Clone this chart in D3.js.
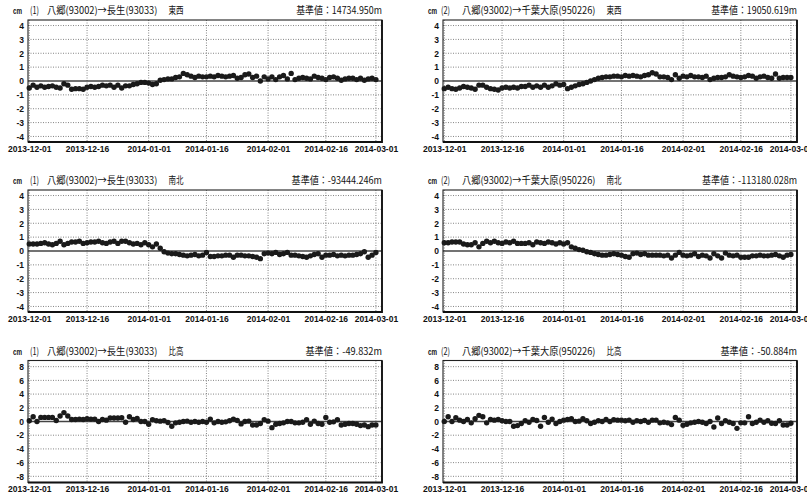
<!DOCTYPE html>
<html>
<head>
<meta charset="utf-8">
<script src="https://cdn.jsdelivr.net/npm/d3@7"></script>
<style>
  body { margin: 0; background: #fff; }
  .tick text { font-family: "Liberation Sans", Arial, sans-serif; font-weight: bold; font-size: 8.5px; fill: #111; }
  .title { font-family: "Noto Sans CJK JP", sans-serif; font-size: 10px; fill: #111; }
  .unit { font-family: "Liberation Sans", Arial, sans-serif; font-weight: bold; font-size: 8.5px; fill: #111; }
</style>
</head>
<body>
<div id="svg"></div>
<script>
// daily solutions 2013-12-01 .. 2014-03-01
const startDay = new Date(2013, 11, 1);
const endDay = new Date(2014, 2, 2);

const xTickLabels = ['2013-12-01', '2013-12-16', '2014-01-01', '2014-01-16', '2014-02-01', '2014-02-16', '2014-03-01'];
const yTicksSmall = [-4, -3, -2, -1, 0, 1, 2, 3, 4];
const yTicksLarge = [-8, -6, -4, -2, 0, 2, 4, 6, 8];

const routes = ['八郷(93002)→長生(93033)', '八郷(93002)→千葉大原(950226)'];
const routeNo = ['(1)', '(2)'];
const components = ['東西', '南北', '比高'];
const baseValues = [
  ['基準値：14734.950m', '基準値：19050.619m'],
  ['基準値：-93444.246m', '基準値：-113180.028m'],
  ['基準値：-49.832m', '基準値：-50.884m']
];

// cm
const ew1 = [
  -0.5,-0.3,-0.45,-0.35,-0.45,-0.4,-0.35,-0.45,-0.5,-0.2,
  -0.3,-0.6,-0.55,-0.55,-0.6,-0.45,-0.4,-0.45,-0.4,-0.3,
  -0.35,-0.3,-0.45,-0.3,-0.5,-0.35,-0.35,-0.25,-0.2,-0.1,
  -0.1,
  -0.15,-0.25,-0.2,0.05,0.1,0.15,0.15,0.25,0.3,0.55,
  0.45,0.35,0.25,0.35,0.3,0.3,0.35,0.3,0.4,0.35,
  0.3,0.35,0.4,0.2,0.25,0.45,0.5,0.25,0.35,0.0,
  0.3,
  0.15,0.3,0.1,0.3,0.4,0.15,0.55,0.1,0.2,0.25,
  0.2,0.15,0.35,0.25,0.2,0.1,0.25,0.3,0.2,0.05,
  0.15,0.2,0.2,0.1,0.2,0.05,0.15,0.2,
  0.1
];
const ew2 = [
  -0.55,-0.45,-0.55,-0.6,-0.5,-0.4,-0.45,-0.5,-0.6,-0.3,
  -0.3,-0.45,-0.55,-0.6,-0.65,-0.5,-0.45,-0.5,-0.45,-0.5,
  -0.4,-0.4,-0.3,-0.45,-0.35,-0.45,-0.3,-0.45,-0.35,-0.2,
  -0.3,
  -0.25,-0.55,-0.45,-0.35,-0.25,-0.2,-0.1,0.0,0.1,0.2,
  0.25,0.3,0.3,0.35,0.35,0.3,0.4,0.35,0.4,0.35,
  0.3,0.4,0.45,0.6,0.5,0.3,0.3,0.25,0.1,0.45,
  0.2,
  0.35,0.3,0.4,0.3,0.3,0.25,0.35,0.1,0.2,0.25,
  0.25,0.3,0.45,0.35,0.3,0.25,0.3,0.4,0.35,0.2,
  0.3,0.35,0.25,0.2,0.5,0.2,0.25,0.25,
  0.25
];
const ns1 = [
  0.5,0.5,0.5,0.55,0.6,0.5,0.45,0.55,0.7,0.45,
  0.55,0.65,0.65,0.7,0.55,0.6,0.65,0.65,0.7,0.6,
  0.55,0.65,0.7,0.55,0.7,0.7,0.6,0.5,0.55,0.45,
  0.6,
  0.45,0.3,0.5,0.2,-0.05,-0.15,-0.2,-0.2,-0.25,-0.3,
  -0.35,-0.3,-0.25,-0.35,-0.3,-0.1,-0.4,-0.4,-0.35,-0.35,
  -0.3,-0.3,-0.45,-0.3,-0.3,-0.35,-0.35,-0.4,-0.45,-0.55,
  -0.2,
  -0.15,-0.2,-0.1,-0.25,-0.2,-0.1,-0.3,-0.3,-0.35,-0.4,
  -0.45,-0.35,-0.25,-0.2,-0.45,-0.3,-0.3,-0.25,-0.35,-0.3,
  -0.35,-0.3,-0.3,-0.25,-0.2,-0.05,-0.45,-0.3,
  -0.1
];
const ns2 = [
  0.6,0.6,0.65,0.65,0.65,0.5,0.45,0.45,0.6,0.3,
  0.55,0.7,0.6,0.7,0.6,0.55,0.65,0.6,0.7,0.55,
  0.55,0.55,0.6,0.45,0.65,0.6,0.55,0.65,0.6,0.5,
  0.6,
  0.5,0.6,0.3,0.2,0.1,0.05,-0.05,-0.1,-0.2,-0.25,
  -0.3,-0.3,-0.25,-0.2,-0.25,-0.3,-0.4,-0.45,-0.2,-0.15,
  -0.25,-0.2,-0.3,-0.3,-0.3,-0.3,-0.35,-0.3,-0.5,-0.3,
  -0.1,
  -0.3,-0.35,-0.3,-0.2,-0.4,-0.3,-0.35,-0.5,-0.2,-0.35,
  -0.5,-0.15,-0.3,-0.35,-0.3,-0.45,-0.45,-0.45,-0.35,-0.35,
  -0.3,-0.35,-0.35,-0.3,-0.25,-0.35,-0.45,-0.3,
  -0.25
];
const ht1 = [
  0.1,0.7,0.0,0.6,0.6,0.6,0.6,0.15,0.8,1.3,
  0.8,0.3,0.3,0.35,0.3,0.4,0.35,0.35,0.0,0.3,
  0.2,0.5,0.5,0.5,0.55,-0.1,0.7,0.3,0.45,0.0,
  0.0,
  -0.4,0.25,0.1,0.05,0.1,-0.15,-0.7,-0.2,-0.1,0.0,
  0.05,-0.1,0.0,-0.1,0.0,-0.1,0.35,-0.2,0.0,-0.1,
  -0.05,0.1,0.35,0.15,-0.35,0.0,0.05,-0.5,-0.5,-0.3,
  0.25,
  0.05,-0.9,-0.4,-0.3,-0.2,0.0,0.0,-0.2,-0.2,-0.1,
  0.25,-0.4,0.05,-0.3,-0.4,0.6,-0.1,-0.05,0.25,-0.5,
  -0.4,-0.3,-0.3,-0.4,-0.6,-0.5,-0.75,-0.5,
  -0.5
];
const ht2 = [
  0.0,0.7,0.0,0.55,0.2,0.0,0.3,-0.2,0.4,0.9,
  0.7,-0.2,0.3,0.2,0.3,0.1,0.0,0.0,-0.7,-0.6,
  -0.3,0.1,-0.1,0.3,0.15,-0.7,0.6,-0.1,0.35,-0.3,
  0.0,
  0.2,0.3,0.4,0.0,0.05,0.4,0.1,-0.3,-0.1,0.1,
  0.0,0.3,0.0,0.25,0.2,0.2,0.1,0.2,-0.1,0.1,
  0.0,0.15,-0.1,0.2,0.2,-0.2,-0.1,-0.2,-0.45,0.6,
  0.2,
  -0.55,-0.4,-0.2,-0.1,0.0,-0.1,-0.3,0.0,-0.8,0.5,
  -0.3,0.1,-0.1,-0.3,-1.0,-0.2,-0.2,0.7,-0.3,-0.1,
  0.2,-0.1,0.1,-0.25,-0.3,0.1,-0.5,-0.5,
  -0.25
];

const seriesGrid = [[ew1, ew2], [ns1, ns2], [ht1, ht2]];

// rough width of the condensed Japanese font used on the original plots
function textWidth(s) {
  let wdt = 0;
  for (const ch of s) wdt += ch.charCodeAt(0) > 0x2000 ? 9.2 : 4.6;
  return wdt;
}

function makeGraph() {
  let w = 807;
  let h = 497;
  let boxW = 354;
  let boxH = 122;
  let colX = [28, 443];
  let rowY = [20, 190, 360.5];

  let dates = d3.timeDay.range(startDay, endDay);
  let parse = d3.timeParse('%Y-%m-%d');
  let xTicks = xTickLabels.map(parse);

  let svg = d3.select('#svg').append('svg').attr('width', w).attr('height', h);

  for (let row = 0; row < 3; row++) {
    for (let col = 0; col < 2; col++) {
      let bx = colX[col];
      let by = rowY[row];
      let values = seriesGrid[row][col];
      let yTicks = row < 2 ? yTicksSmall : yTicksLarge;
      let yLim = row < 2 ? 4.4 : 8.9;

      let xScale = d3.scaleTime()
        .domain([new Date(2013, 10, 30, 16), new Date(2014, 2, 2, 14)])
        .range([bx, bx + boxW]);
      let yScale = d3.scaleLinear()
        .domain([-yLim, yLim])
        .range([by + boxH, by]);

      let g = svg.append('g');

      // dotted grid
      g.selectAll('line.hgrid')
        .data(yTicks.filter(d => d !== 0))
        .enter()
          .append('line')
          .attr('x1', bx).attr('x2', bx + boxW)
          .attr('y1', d => yScale(d)).attr('y2', d => yScale(d))
          .attr('stroke', '#666')
          .attr('stroke-width', 0.8)
          .attr('stroke-dasharray', '1,1.5');

      g.selectAll('line.vgrid')
        .data(xTicks)
        .enter()
          .append('line')
          .attr('x1', d => xScale(d)).attr('x2', d => xScale(d))
          .attr('y1', by).attr('y2', by + boxH)
          .attr('stroke', '#666')
          .attr('stroke-width', 0.8)
          .attr('stroke-dasharray', '1,1.5');

      // zero line
      g.append('line')
        .attr('x1', bx).attr('x2', bx + boxW)
        .attr('y1', yScale(0)).attr('y2', yScale(0))
        .attr('stroke', '#444')
        .attr('stroke-width', 1.3);

      // frame, heavier on the right and bottom like the source plots
      g.append('rect')
        .attr('x', bx).attr('y', by)
        .attr('width', boxW).attr('height', boxH)
        .attr('fill', 'none')
        .attr('stroke', '#222')
        .attr('stroke-width', 1.1);
      g.append('path')
        .attr('d', `M${bx + boxW},${by} V${by + boxH} H${bx}`)
        .attr('fill', 'none')
        .attr('stroke', '#111')
        .attr('stroke-width', 1.8);

      // points
      g.selectAll('circle')
        .data(values)
        .enter()
          .append('circle')
          .attr('cx', (d, i) => xScale(dates[i]))
          .attr('cy', d => yScale(d))
          .attr('r', 2.7)
          .style('fill', '#1a1a1a');

      // axes
      let yAxis = d3.axisLeft(yScale)
        .tickValues(yTicks)
        .tickSize(0)
        .tickPadding(4)
        .tickFormat(d => String(d));
      g.append('g')
        .attr('transform', `translate(${bx}, 0)`)
        .call(yAxis)
        .call(a => a.select('.domain').remove());

      let xAxis = d3.axisBottom(xScale)
        .tickValues(xTicks)
        .tickSize(0)
        .tickPadding(3.5)
        .tickFormat(d3.timeFormat('%Y-%m-%d'));
      g.append('g')
        .attr('transform', `translate(0, ${by + boxH})`)
        .call(xAxis)
        .call(a => a.select('.domain').remove());

      // title line
      let ty = by - 6;
      g.append('text')
        .classed('unit', true)
        .attr('x', bx - 15)
        .attr('y', ty)
        .attr('textLength', 9)
        .attr('lengthAdjust', 'spacingAndGlyphs')
        .text('cm');

      g.append('text')
        .classed('title', true)
        .attr('x', col === 0 ? bx + 2 : bx - 2)
        .attr('y', ty)
        .attr('textLength', 9)
        .attr('lengthAdjust', 'spacingAndGlyphs')
        .text(routeNo[col]);

      let rx = bx + 19;
      let rw = textWidth(routes[col]);
      g.append('text')
        .classed('title', true)
        .attr('x', rx)
        .attr('y', ty)
        .attr('textLength', rw)
        .attr('lengthAdjust', 'spacingAndGlyphs')
        .text(routes[col]);

      g.append('text')
        .classed('title', true)
        .attr('x', rx + rw + 11)
        .attr('y', ty)
        .attr('textLength', 15)
        .attr('lengthAdjust', 'spacingAndGlyphs')
        .text(components[row]);

      g.append('text')
        .classed('title', true)
        .attr('x', bx + boxW)
        .attr('y', ty)
        .attr('text-anchor', 'end')
        .attr('textLength', textWidth(baseValues[row][col]) + 3)
        .attr('lengthAdjust', 'spacingAndGlyphs')
        .text(baseValues[row][col]);
    }
  }
}

window.onload = function() {
  makeGraph();
};
</script>
</body>
</html>
